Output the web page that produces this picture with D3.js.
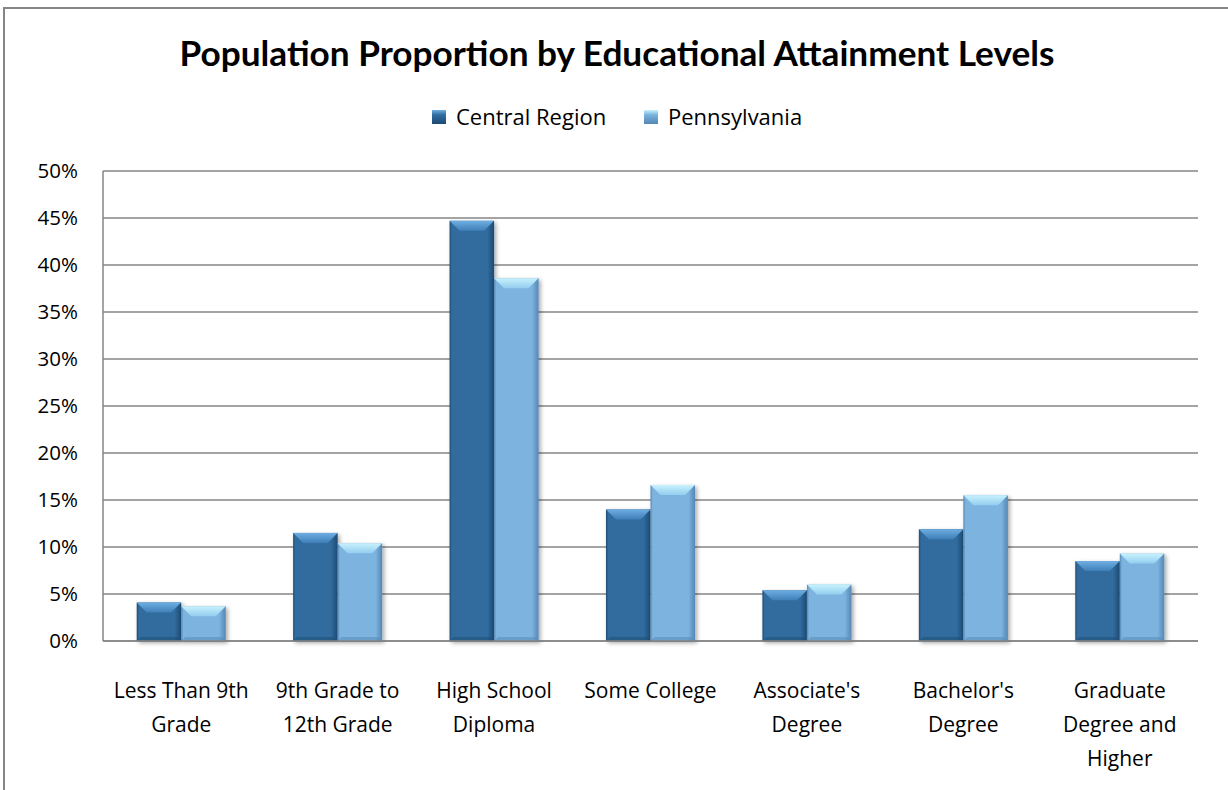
<!DOCTYPE html>
<html>
<head>
<meta charset="utf-8">
<script src="https://cdn.jsdelivr.net/npm/d3@7"></script>
<style>
  html, body { margin: 0; padding: 0; background: #ffffff; }
  svg { display: block; }
</style>
</head>
<body>
<svg id="chart" width="1228" height="790"></svg>
<script>
// ---- data ----
const categories = ["Less Than 9th Grade", "9th Grade to 12th Grade", "High School Diploma", "Some College", "Associate's Degree", "Bachelor's Degree", "Graduate Degree and Higher"];
const categoryLabelLines = [["Less Than 9th", "Grade"], ["9th Grade to", "12th Grade"], ["High School", "Diploma"], ["Some College"], ["Associate's", "Degree"], ["Bachelor's", "Degree"], ["Graduate", "Degree and", "Higher"]];
const seriesNames = ["Central Region", "Pennsylvania"];
const centralRegion = [4.1, 11.5, 44.7, 14.0, 5.4, 11.9, 8.5];
const pennsylvania = [3.7, 10.4, 38.6, 16.6, 6.0, 15.5, 9.3];
const yTicks = [0, 5, 10, 15, 20, 25, 30, 35, 40, 45, 50];
const titleText = "Population Proportion by Educational Attainment Levels";

// ---- layout ----
const svg = d3.select("#chart");
const plot = { left: 103, right: 1198, top: 171, bottom: 641 };
const gridColor = "#868686";

const styles = {
  "Central Region": { body: "#306c9f", edgeDark: "#1d4a72", topA: "#6eaee2", topB: "#3f7fb8", legend: "#2f6ca0" },
  "Pennsylvania": { body: "#7db4df", edgeDark: "#5587b4", topA: "#c8f2fd", topB: "#93cdef", legend: "#7ab2dd" }
};

const defs = svg.append("defs");
const f = defs.append("filter").attr("id", "shadow").attr("x", "-20%").attr("y", "-20%").attr("width", "150%").attr("height", "150%");
f.append("feDropShadow").attr("dx", 2).attr("dy", 2).attr("stdDeviation", 2).attr("flood-color", "#000").attr("flood-opacity", 0.35);

seriesNames.forEach((s, i) => {
  const st = styles[s];
  const g = defs.append("linearGradient").attr("id", "body" + i).attr("x1", 0).attr("x2", 1).attr("y1", 0).attr("y2", 0);
  g.append("stop").attr("offset", "0%").attr("stop-color", st.edgeDark);
  g.append("stop").attr("offset", "5%").attr("stop-color", st.body);
  g.append("stop").attr("offset", "85%").attr("stop-color", st.body);
  g.append("stop").attr("offset", "100%").attr("stop-color", st.edgeDark);
  const t = defs.append("linearGradient").attr("id", "top" + i).attr("x1", 0).attr("x2", 0).attr("y1", 0).attr("y2", 1);
  t.append("stop").attr("offset", "0%").attr("stop-color", st.topA);
  t.append("stop").attr("offset", "100%").attr("stop-color", st.topB);
  const lg = defs.append("linearGradient").attr("id", "leg" + i).attr("x1", 0).attr("x2", 0).attr("y1", 0).attr("y2", 1);
  lg.append("stop").attr("offset", "0%").attr("stop-color", st.topA);
  lg.append("stop").attr("offset", "35%").attr("stop-color", st.legend);
  lg.append("stop").attr("offset", "100%").attr("stop-color", st.edgeDark);
});

// outer border
svg.append("rect").attr("x", 4).attr("y", 8).attr("width", 1300).attr("height", 900)
  .attr("fill", "none").attr("stroke", gridColor).attr("stroke-width", 2);

// scales
const x = d3.scaleBand().domain(categories).range([plot.left, plot.right]).paddingInner(0).paddingOuter(0);
const x1 = d3.scaleBand().domain(seriesNames).range([0, x.bandwidth()]).paddingInner(0).paddingOuter(0.757);
const y = d3.scaleLinear().domain([0, 50]).range([plot.bottom, plot.top]);

// gridlines
svg.append("g").selectAll("line").data(yTicks).join("line")
  .attr("x1", plot.left).attr("x2", plot.right)
  .attr("y1", d => y(d)).attr("y2", d => y(d))
  .attr("stroke", gridColor).attr("stroke-width", 1.5);

// y axis line
svg.append("line").attr("x1", plot.left).attr("x2", plot.left).attr("y1", plot.top).attr("y2", plot.bottom)
  .attr("stroke", gridColor).attr("stroke-width", 1.5);

// y tick labels
const yAxis = d3.axisLeft(y).tickValues(yTicks).tickFormat(d => d + "%").tickSize(0).tickPadding(25);
const ya = svg.append("g").attr("transform", `translate(${plot.left},0)`).call(yAxis);
ya.select(".domain").remove();
ya.selectAll("text").attr("font-family", "'Open Sans', sans-serif").attr("font-size", 20.5).attr("fill", "#000");

// bars
const dataRows = categories.map((c, i) => ({ cat: c, values: [centralRegion[i], pennsylvania[i]] }));
const bevel = 10;
const groups = svg.append("g").selectAll("g").data(dataRows).join("g")
  .attr("transform", d => `translate(${x(d.cat)},0)`);

seriesNames.forEach((s, si) => {
  const bars = groups.append("g").attr("filter", "url(#shadow)");
  bars.append("rect")
    .attr("x", () => x1(s))
    .attr("y", d => y(d.values[si]))
    .attr("width", x1.bandwidth())
    .attr("height", d => y(0) - y(d.values[si]))
    .attr("fill", `url(#body${si})`);
  bars.append("polygon")
    .attr("points", d => {
      const bx = x1(s), bw = x1.bandwidth(), by = y(d.values[si]);
      return [[bx, by], [bx + bw, by], [bx + bw - bevel, by + bevel], [bx + bevel, by + bevel]].map(p => p.join(",")).join(" ");
    })
    .attr("fill", `url(#top${si})`);
  bars.append("polygon")
    .attr("points", d => {
      const bx = x1(s), bw = x1.bandwidth(), by = y(0);
      return [[bx, by], [bx + bw, by], [bx + bw - 4, by - 4], [bx + 4, by - 4]].map(p => p.join(",")).join(" ");
    })
    .attr("fill", styles[s].edgeDark).attr("opacity", 0.5);
});

// x axis baseline
svg.append("line").attr("x1", plot.left).attr("x2", plot.right).attr("y1", plot.bottom).attr("y2", plot.bottom)
  .attr("stroke", gridColor).attr("stroke-width", 1.5);

// category labels
const catG = svg.append("g");
categories.forEach((c, i) => {
  const t = catG.append("text")
    .attr("x", x(c) + x.bandwidth() / 2)
    .attr("y", 698)
    .attr("text-anchor", "middle")
    .attr("font-family", "'Open Sans', sans-serif")
    .attr("font-size", 21)
    .attr("fill", "#000");
  categoryLabelLines[i].forEach((line, li) => {
    t.append("tspan").attr("x", x(c) + x.bandwidth() / 2).attr("dy", li === 0 ? 0 : 34).text(line);
  });
});

// title
const title = svg.append("text")
  .attr("x", 617).attr("y", 66)
  .attr("text-anchor", "middle")
  .attr("font-family", "Lato, 'Open Sans', sans-serif")
  .attr("font-weight", "bold")
  .attr("font-size", 32)
  .attr("fill", "#000")
  .text(titleText);
{
  const w = title.node().getComputedTextLength();
  title.attr("font-size", 32 * 875 / w);
}

// legend
const legend = svg.append("g");
const legX = [432, 644];
seriesNames.forEach((s, i) => {
  legend.append("rect").attr("x", legX[i]).attr("y", 110).attr("width", 14).attr("height", 14)
    .attr("fill", `url(#leg${i})`);
  legend.append("text").attr("x", legX[i] + 24).attr("y", 125)
    .attr("font-family", "'Open Sans', sans-serif").attr("font-size", 22).attr("fill", "#000")
    .text(s);
});
</script>
</body>
</html>
